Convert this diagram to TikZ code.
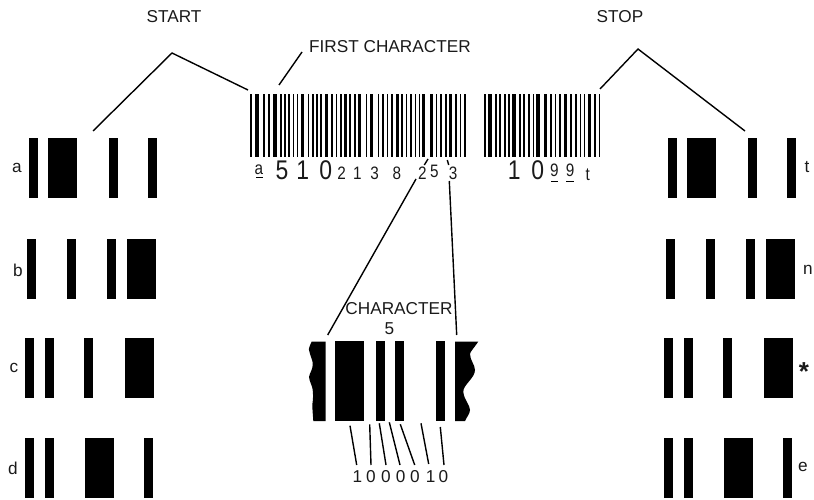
\documentclass[tikz,border=0pt]{standalone}
\usepackage{fontspec}
\usepackage{graphicx}
\setmainfont{Liberation Sans}
\definecolor{ink}{HTML}{1A1A1A}
\newcommand{\nar}[1]{\scalebox{.85}[1]{#1}}
\tikzset{
  lbl/.style={inner sep=0pt,text=ink,font=\fontsize{17.2}{17.2}\selectfont},
  big/.style={inner sep=0pt,text=ink,font=\fontsize{27}{27}\selectfont},
  small/.style={inner sep=0pt,text=ink,font=\fontsize{18}{18}\selectfont},
  leader/.style={draw=black,line width=1.4pt},
  bar/.style={fill=black,draw=none}
}
\newcommand{\barset}[3]{% y-top, y-bottom, list of x0/x1
  \foreach \p/\q in {#3} {\fill[bar] (\p,#1) rectangle (\q,#2);}}
\newcommand{\thinbars}[1]{\foreach \c in {#1} {\fill[bar] ({\c-0.8},94) rectangle ({\c+0.8},157);}}
\newcommand{\thickbars}[1]{\foreach \c in {#1} {\fill[bar] ({\c-1.7},94) rectangle ({\c+1.7},157);}}
\begin{document}
\begin{tikzpicture}[x=1pt,y=-1pt]
\useasboundingbox (0,0) rectangle (814,500);
% left patterns
\barset{138}{198}{29/38,48/77,109/118,148/157}
\barset{239}{299}{27/36,67/76,107/116,127/156}
\barset{338}{398}{25/34,45/54,84/93,125/154}
\barset{438}{498}{25/34,45/54,85/114,144/153}
% right patterns
\barset{138}{198}{668/677,687/716,748/757,787/796}
\barset{239}{299}{666/675,706/715,746/755,766/795}
\barset{338}{398}{664/673,684/693,723/732,764/793}
\barset{438}{498}{664/673,684/693,724/753,783/792}
% barcode left block
\thinbars{250.7,264,268.7,280.7,284.7,289,293.3,297.3,308.3,312.7,317,321,331.7,336.3,340.7,350,354.7,366.3,378.3,383,387.3,391.7,402,406.3,410.7,415.3,419.3,436.5,441,445.7,456,460.5,465}
\thickbars{257,275,302.3,326.3,345.5,359.7,371.7,397.3,423.3,431.5,450.7}
% barcode right block
\thinbars{485,495.7,500,505,509,519.7,524,528.7,533.3,551,555.3,560,571,575.7,580.3,584.3,594.7,599.3}
\thickbars{490,514,538,545.7,565.3,589.3}
% enlarged character
\barset{341}{421}{335/364,376/385,395/404,436/445}
\fill[bar] (325.7,341.5) -- (311.7,341.5)
  .. controls (309,347) and (308.5,350) .. (309,350)
  .. controls (310,355) and (312.5,360) .. (312.7,363)
  .. controls (313.3,369) and (309.5,373) .. (309,377)
  .. controls (309.5,382) and (312.5,386) .. (312.7,390)
  .. controls (313.3,395) and (313,400) .. (312.5,403)
  .. controls (312,408) and (313,415) .. (313.3,421)
  -- (325.7,421) -- cycle;
\fill[bar] (455,341.5) -- (478.3,341.5)
  .. controls (474,348) and (470,352) .. (470,354)
  .. controls (470,360) and (475,365) .. (475,370)
  .. controls (475,378) and (463,385) .. (463.3,391.7)
  .. controls (464,400) and (470,405) .. (470,410)
  .. controls (470,414) and (466,418) .. (465,421)
  -- (455,421) -- cycle;
% coordinates for leaders
\coordinate (sa) at (93,131); \coordinate (sb) at (172,53); \coordinate (sc) at (248,90);
\coordinate (fa) at (279,85); \coordinate (fb) at (302,52);
\coordinate (ta) at (600,89); \coordinate (tb) at (638,49); \coordinate (tc) at (745,131);
\coordinate (la) at (428,159); \coordinate (lb) at (424.3,165); \coordinate (lc) at (416,179); \coordinate (ld) at (327.7,335);
\coordinate (ra) at (447.3,160); \coordinate (rb) at (448.7,165); \coordinate (rc) at (449.3,181); \coordinate (rd) at (456.7,335);
\draw[leader] (sa) -- (sb) -- (sc);
\draw[leader] (fa) -- (fb);
\draw[leader] (ta) -- (tb) -- (tc);
\draw[leader] (la) -- (lb);
\draw[leader] (lc) -- (ld);
\draw[leader] (ra) -- (rb);
\draw[leader] (rc) -- (rd);
% labels
\node[lbl] (start) at (174,17) {START};
\node[lbl] (stop) at (620,17) {STOP};
\node[lbl,anchor=west] (first) at (309,47) {FIRST CHARACTER};
\node[lbl] (charlab) at (399,309) {CHARACTER};
\node[lbl] (charnum) at (389.5,329) {5};
\node[lbl] (la1) at (17,168) {a};
\node[lbl] (lb1) at (18,270) {b};
\node[lbl] (lc1) at (14,368) {c};
\node[lbl] (ld1) at (13,468) {d};
\node[lbl] (rt) at (807,167) {t};
\node[lbl] (rn) at (808,270) {n};
\node[inner sep=0pt,text=ink,font=\fontsize{26}{26}\selectfont\bfseries] (rs) at (804,372) {*};
\node[lbl] (re) at (803,467) {e};
% barcode digits
\node[small] (ba) at (259,170) {\nar{a}};
\fill[bar] (255.5,177) rectangle (263,178);
\node[big] (b5) at (282,170.7) {\nar{5}};
\node[big] (b1) at (302.7,170.7) {\nar{1}};
\node[big] (b0) at (325.7,170.7) {\nar{0}};
\node[small] (d1) at (341.7,173.3) {\nar{2}};
\node[small] (d2) at (357.3,173.3) {\nar{1}};
\node[small] (d3) at (374.7,173.3) {\nar{3}};
\node[small] (d4) at (397,173.3) {\nar{8}};
\node[small] (d5) at (422.3,173.3) {\nar{2}};
\node[small] (d6) at (434.3,171.5) {\nar{5}};
\node[small] (d7) at (453,173.3) {\nar{3}};
\node[big] (e1) at (514.3,170.7) {\nar{1}};
\node[big] (e0) at (537.7,170.7) {\nar{0}};
\node[small] (e9) at (554.3,170.7) {\nar{9}};
\node[small] (e9b) at (570,170.7) {\nar{9}};
\fill[bar] (550.5,181.2) rectangle (558,182.2);
\fill[bar] (566,181.2) rectangle (573.5,182.2);
\node[small] (et) at (587.7,175) {\nar{t}};
% bit digits and ticks
\foreach \n/\d/\x in {p/1/357.3,q/0/371,r/0/386,s/0/400.7,u/0/415,v/1/430.7,w/0/443.3} {
  \node[lbl] (bit\n) at (\x,476.7) {\d};
}
\coordinate (t1) at (350,425.7); \coordinate (t2) at (369.7,424.3); \coordinate (t3) at (379.3,423.3);
\coordinate (t4) at (389.3,422.3); \coordinate (t5) at (400.3,424.3); \coordinate (t6) at (421,423.3); \coordinate (t7) at (440.3,427);
\draw[leader] (t1) -- (356.7,465);
\draw[leader] (t2) -- (371,465);
\draw[leader] (t3) -- (386,465);
\draw[leader] (t4) -- (400,465);
\draw[leader] (t5) -- (414.7,465);
\draw[leader] (t6) -- (428.7,464);
\draw[leader] (t7) -- (444,465);
\end{tikzpicture}
\end{document}
